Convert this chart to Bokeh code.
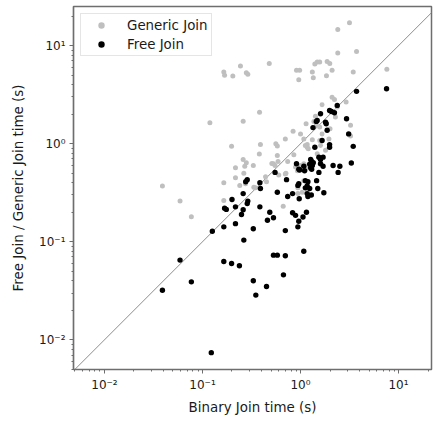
from bokeh.plotting import figure
from bokeh.models import Slope, FixedTicker, CustomJSTickFormatter, Range1d
from bokeh.embed import file_html
from bokeh.resources import INLINE

# Generic Join: (binary join time, generic join time)
generic_x = [3.16, 2.4, 3.73, 2.4, 0.48, 0.244, 0.165, 0.168, 0.204, 0.28, 0.29, 0.91, 0.98, 0.96,
             1.32, 1.35, 1.4, 1.48, 1.57, 1.87, 1.99, 2.1, 1.84, 3.45, 7.6,
             0.119, 0.26, 0.382, 0.198, 0.039, 0.059, 0.077,
             0.165, 0.165, 0.217, 0.217, 0.24, 0.26, 0.27, 0.28, 0.264, 0.275, 0.33, 0.334, 0.347,
             0.39, 0.38, 0.44, 0.45,
             0.53, 0.55, 0.56, 0.58, 0.58, 0.6, 0.70, 0.70, 0.666, 0.74, 0.84, 0.855, 0.89, 0.94, 0.94, 1.04,
             1.08, 1.08, 1.14, 1.15, 1.14, 1.17, 1.17, 1.2, 1.12, 1.32, 1.37, 1.42, 1.48, 1.6, 1.66, 1.66,
             1.95, 2.1, 2.22, 2.27, 2.37, 2.92, 3.24, 3.24, 1.08, 1.17, 1.45, 1.57, 1.57, 1.8, 2.0,
             0.51, 0.59, 0.71, 0.93, 1.0, 1.0]
generic_y = [17.1, 14.6, 8.7, 8.4, 6.6, 6.2, 5.4, 5.0, 4.9, 5.3, 5.1, 5.6, 5.6, 4.5,
             5.4, 4.7, 6.5, 6.8, 6.8, 6.9, 6.6, 5.6, 4.95, 5.4, 5.75,
             1.64, 1.7, 2.1, 0.94, 0.37, 0.26, 0.18,
             0.40, 0.264, 0.57, 0.45, 0.376, 0.69, 0.59, 0.64, 0.50, 0.39, 0.60, 0.36, 0.355,
             0.98, 0.785, 0.46, 0.41,
             0.625, 0.60, 1.0, 0.95, 0.76, 0.48, 1.12, 0.49, 0.23, 0.66, 1.34, 0.77, 0.58, 0.355, 0.31, 0.32,
             1.12, 0.625, 0.55, 0.59, 1.6, 0.98, 0.92, 0.89, 0.96, 1.1, 1.69, 1.91, 0.79, 0.96, 1.26, 2.5,
             1.12, 2.98, 2.83, 1.87, 2.37, 2.66, 1.54, 1.2, 0.42, 0.32, 1.54, 1.48, 1.08, 0.86, 1.42,
             0.63, 0.66, 0.50, 0.53, 0.6, 1.26]

# Free Join: (binary join time, free join time)
free_x = [7.55, 3.73, 2.37, 2.95, 3.1, 3.45, 3.3, 2.42, 2.52, 2.15,
          1.98, 2.07, 2.22, 1.6, 1.48, 1.45, 1.8, 1.83, 1.34, 1.87, 1.66, 1.4, 1.98, 1.98,
          1.54, 1.7, 1.6, 1.27, 1.3, 1.35, 1.24, 1.32, 1.27, 1.3, 1.6, 1.7, 1.54,
          0.91, 0.96, 1.1, 0.55, 0.98, 1.08,
          0.72, 0.96, 0.94, 1.12, 1.19, 1.17, 1.12, 1.24, 1.5, 1.46,
          1.17, 1.19, 1.29, 0.58, 0.83, 0.74, 1.73, 0.97,
          0.286, 0.276, 0.385, 0.39, 0.26, 0.29, 0.286, 0.2, 0.168, 0.175, 0.217, 0.26, 0.25, 0.385,
          0.486, 0.46, 0.53, 0.83, 0.89, 1.15, 1.06, 0.96, 0.94, 0.165, 0.217, 0.33, 0.70, 0.264, 0.126,
          1.08, 0.53, 0.58, 0.70, 0.165, 0.198, 0.238, 0.059, 0.67, 0.33, 0.077, 0.45, 0.35, 0.039, 0.123]
free_y = [3.64, 3.42, 2.46, 1.8, 1.26, 0.94, 0.635, 0.51, 0.59, 0.6,
          2.18, 2.13, 2.07, 2.02, 1.73, 1.69, 1.66, 1.6, 1.46, 1.37, 1.08, 0.92, 0.98, 0.92,
          0.73, 0.73, 0.69, 0.69, 0.66, 0.64, 0.62, 0.6, 0.57, 0.55, 0.625, 0.59, 0.51,
          0.625, 0.55, 0.53, 0.51, 0.54, 0.59,
          0.43, 0.39, 0.376, 0.42, 0.41, 0.37, 0.355, 0.35, 0.35, 0.42,
          0.31, 0.29, 0.30, 0.32, 0.31, 0.29, 0.316, 0.275,
          0.43, 0.41, 0.40, 0.35, 0.31, 0.26, 0.245, 0.27, 0.22, 0.214, 0.227, 0.212, 0.19, 0.227,
          0.2, 0.166, 0.176, 0.198, 0.186, 0.2, 0.179, 0.162, 0.142, 0.142, 0.153, 0.136, 0.13, 0.104, 0.128,
          0.080, 0.073, 0.073, 0.072, 0.063, 0.06, 0.057, 0.065, 0.046, 0.040, 0.039, 0.035, 0.0286, 0.032, 0.0074]

FONT = "DejaVu Sans"
FRAME = "#6e6e6e"
TEXT = "#1a1a1a"

p = figure(width=433, height=421, x_axis_type="log", y_axis_type="log",
           x_range=Range1d(0.00483, 21.7), y_range=Range1d(0.00498, 25.1),
           output_backend="svg", toolbar_location=None,
           min_border_left=73, min_border_right=2, min_border_top=6, min_border_bottom=52)

p.add_layout(Slope(gradient=1, y_intercept=0, line_color="#808080", line_width=0.9, level="underlay"))

p.scatter(generic_x, generic_y, size=5, fill_color="#bfbfbf", line_color=None, legend_label="Generic Join")
p.scatter(free_x, free_y, size=5.4, fill_color="black", line_color=None, legend_label="Free Join")

p.grid.visible = False
p.outline_line_color = FRAME
p.outline_line_width = 1.5

majors = [0.001, 0.01, 0.1, 1, 10, 100]
minors = [m * k for m in majors for k in range(2, 10)]
fmt = CustomJSTickFormatter(code="""
const e = Math.round(Math.log10(tick));
const sup = {'0':'\u2070','1':'\u00b9','2':'\u00b2','3':'\u00b3','4':'\u2074','5':'\u2075','6':'\u2076','7':'\u2077','8':'\u2078','9':'\u2079','-':'\u207b'};
return '10' + String(e).split('').map(c => sup[c]).join('');
""")
for ax in (p.xaxis[0], p.yaxis[0]):
    ax.ticker = FixedTicker(ticks=majors, minor_ticks=minors)
    ax.formatter = fmt
    ax.axis_line_color = FRAME
    ax.axis_line_width = 1.2
    ax.major_tick_line_color = FRAME
    ax.minor_tick_line_color = FRAME
    ax.major_tick_out = 4
    ax.major_tick_in = 0
    ax.minor_tick_out = 2
    ax.minor_tick_in = 0
    ax.major_label_standoff = 4
    ax.major_label_text_font = FONT
    ax.major_label_text_font_size = "12px"
    ax.major_label_text_color = TEXT
    ax.axis_label_text_font = FONT
    ax.axis_label_text_font_size = "13.4px"
    ax.axis_label_text_font_style = "normal"
    ax.axis_label_text_color = TEXT

p.xaxis.axis_label = "Binary Join time (s)"
p.yaxis.axis_label = "Free Join / Generic Join time (s)"
p.yaxis.axis_label_standoff = 10
p.xaxis.axis_label_standoff = 5

lg = p.legend[0]
lg.location = "top_left"
lg.margin = 7
lg.padding = 3
lg.spacing = 3
lg.glyph_width = 34
lg.glyph_height = 16
lg.label_height = 16
lg.label_standoff = 9
lg.label_text_font = FONT
lg.label_text_font_size = "13.4px"
lg.label_text_color = TEXT
lg.border_line_color = "#cccccc"
lg.background_fill_alpha = 0.8

open("out.html", "w").write(file_html(p, INLINE))
